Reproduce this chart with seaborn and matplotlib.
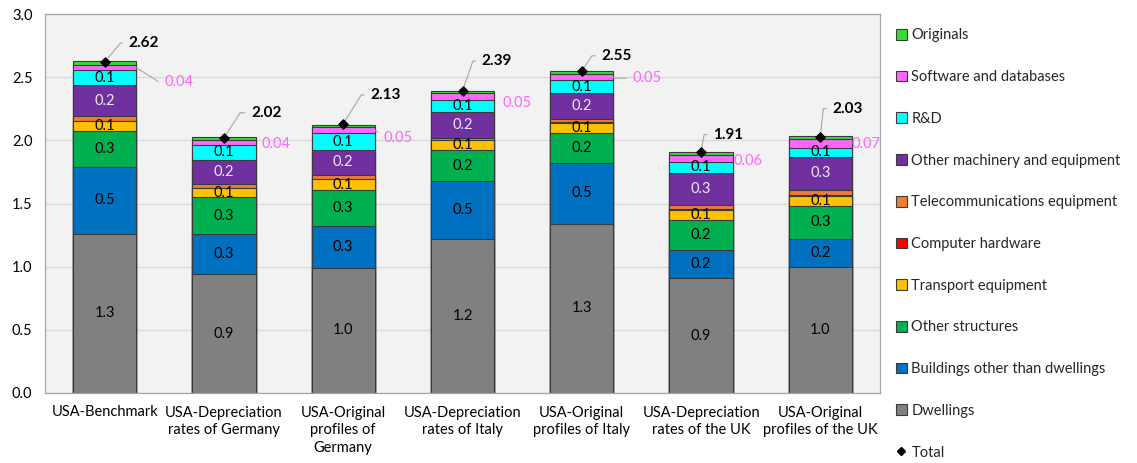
import numpy as np
import pandas as pd
import matplotlib
matplotlib.use("Agg")
import matplotlib.pyplot as plt
import seaborn as sns
from matplotlib.patches import Patch
from matplotlib.lines import Line2D

# ---------------- data ----------------
categories = [
    "USA-Benchmark",
    "USA-Depreciation\nrates of Germany",
    "USA-Original\nprofiles of\nGermany",
    "USA-Depreciation\nrates of Italy",
    "USA-Original\nprofiles of Italy",
    "USA-Depreciation\nrates of the UK",
    "USA-Original\nprofiles of the UK",
]
dwellings        = [1.26, 0.94, 0.99, 1.22, 1.34, 0.91, 1.00]
buildings        = [0.53, 0.32, 0.33, 0.46, 0.48, 0.22, 0.22]
other_structures = [0.28, 0.29, 0.29, 0.24, 0.24, 0.24, 0.26]
transport        = [0.08, 0.07, 0.08, 0.08, 0.08, 0.08, 0.08]
computer_hw      = [0.005, 0.005, 0.005, 0.005, 0.005, 0.005, 0.005]
telecom          = [0.04, 0.03, 0.03, 0.016, 0.02, 0.03, 0.04]
other_machinery  = [0.24, 0.19, 0.20, 0.20, 0.21, 0.26, 0.265]
rnd              = [0.12, 0.12, 0.13, 0.10, 0.10, 0.08, 0.07]
software         = [0.04, 0.04, 0.05, 0.05, 0.05, 0.06, 0.07]
originals        = [0.03, 0.02, 0.02, 0.02, 0.025, 0.02, 0.025]
totals           = [2.62, 2.02, 2.13, 2.39, 2.55, 1.91, 2.03]

series_names = ["Dwellings", "Buildings other than dwellings", "Other structures",
                "Transport equipment", "Computer hardware", "Telecommunications equipment",
                "Other machinery and equipment", "R&D", "Software and databases", "Originals"]
series_values = [dwellings, buildings, other_structures, transport, computer_hw,
                 telecom, other_machinery, rnd, software, originals]

# ---------------- styles ----------------
colors = ["#808080", "#0070c0", "#00b050", "#ffc000", "#ff0000", "#ed7d31",
          "#7030a0", "#00ffff", "#ff66ff", "#33dd33"]
labeled = [True, True, True, True, False, False, True, True, False, False]
label_colors = ["black", "black", "black", "black", None, None, "#f0e8f8", "black", None, None]
bar_width = 0.53

# software label offsets (pixels from right edge of segment) and leader flags
sw_offsets = [(28, -14), (6, -2), (9, -8), (8, -6), (19, -1), (1, -2), (0, -1)]
sw_lines = [True, False, True, False, True, False, False]
# total label offsets (pixels) and leader angles
tot_offsets = [(24, 19), (27, 25), (27, 29), (19, 30), (20, 15), (12, 17), (12, 28)]
tot_angles = [50, 57, 58, 71, 56, 80, 84]

sns.set_theme(style="whitegrid")
plt.rcParams['font.family'] = ['Lato', 'DejaVu Sans']
plt.rcParams['font.size'] = 10.5

W, H = 1137, 463
fig = plt.figure(figsize=(W / 100, H / 100), dpi=100)
fig.patch.set_facecolor("white")
ax = fig.add_axes([45 / W, 1 - 393 / H, (880 - 45) / W, (393 - 14) / H])
ax.set_facecolor("#f2f2f2")

df = pd.DataFrame({n: v for n, v in zip(series_names, series_values)})
df["category"] = categories
cum = df[series_names].cumsum(axis=1)

# draw cumulative bars from top layer down
for name, color in reversed(list(zip(series_names, colors))):
    sns.barplot(x=df["category"], y=cum[name], color=color, saturation=1,
                width=bar_width, edgecolor="#3a3a3a", linewidth=0.8,
                errorbar=None, ax=ax, zorder=2)

n = len(categories)
# segment labels
for k, name in enumerate(series_names):
    if not labeled[k]:
        continue
    for i in range(n):
        v = df[name].iloc[i]
        top = cum[name].iloc[i]
        ax.text(i, top - v / 2, f"{v:.1f}", ha="center", va="center",
                fontsize=10.5, color=label_colors[k], zorder=5)

# software labels
for i in range(n):
    v = software[i]
    top = cum["Software and databases"].iloc[i]
    y = top - v / 2
    kw = {}
    if sw_lines[i]:
        kw["arrowprops"] = dict(arrowstyle="-", color="#a6a6a6", lw=0.8,
                                connectionstyle="angle,angleA=0,angleB=-32",
                                shrinkA=2, shrinkB=0)
    ax.annotate(f"{v:.2f}", xy=(i + bar_width / 2, y), xytext=sw_offsets[i],
                textcoords="offset pixels", ha="left", va="center",
                color="#ff66ff", fontsize=10.5, zorder=6, **kw)

# totals
ax.scatter(range(n), totals, marker="D", s=22, color="black", zorder=7)
for i in range(n):
    ax.annotate(f"{totals[i]:.2f}", xy=(i, totals[i]), xytext=tot_offsets[i],
                textcoords="offset pixels", ha="left", va="center",
                fontsize=11, fontweight="bold", color="black", zorder=6,
                arrowprops=dict(arrowstyle="-", color="#a6a6a6", lw=0.8,
                                connectionstyle=f"angle,angleA=0,angleB={tot_angles[i]}",
                                shrinkA=2, shrinkB=1))

# axes formatting
ax.set_ylim(0, 3.0)
ax.set_xlim(-0.5, n - 0.5)
ax.set_yticks(np.arange(0, 3.01, 0.5))
ax.set_yticklabels([f"{t:.1f}" for t in np.arange(0, 3.01, 0.5)])
ax.set_xlabel("")
ax.set_ylabel("")
ax.grid(axis="y", color="#d9d9d9", linewidth=0.9, zorder=0)
ax.grid(axis="x", visible=False)
ax.set_axisbelow(True)
for s in ax.spines.values():
    s.set_visible(True)
    s.set_color("#a6a6a6")
    s.set_linewidth(0.9)
ax.tick_params(axis="y", length=0, pad=9, labelsize=10.5, labelcolor="black")
ax.tick_params(axis="x", length=0, pad=9, labelsize=10.5, labelcolor="black")
for lab in ax.get_xticklabels():
    lab.set_linespacing(1.35)

# legend
handles = []
leg_labels = []
for name, color in reversed(list(zip(series_names, colors))):
    handles.append(Patch(facecolor=color, edgecolor="#3a3a3a", linewidth=0.8))
    leg_labels.append(name)
handles.append(Line2D([], [], marker="D", color="black", linestyle="none", markersize=4.5))
leg_labels.append("Total")
fig.legend(handles, leg_labels, loc="center left", bbox_to_anchor=(896 / W, 1 - 244 / H),
           frameon=False, borderpad=0, borderaxespad=0, handlelength=0.75,
           handleheight=0.75, handletextpad=0.3, labelspacing=1.9, fontsize=10.5)

fig.savefig("out.png", dpi=100, facecolor="white")
